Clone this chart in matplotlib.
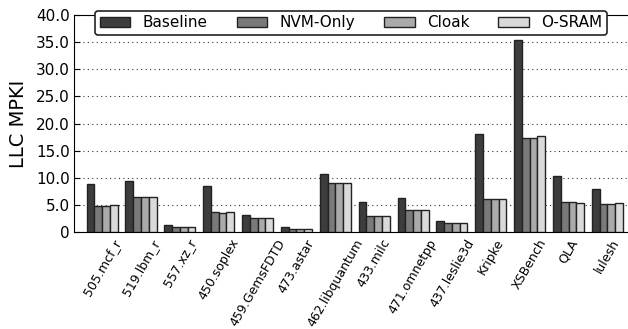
import matplotlib
matplotlib.use("Agg")
import matplotlib.pyplot as plt
import numpy as np

categories = ["505.mcf_r", "519.lbm_r", "557.xz_r", "450.soplex", "459.GemsFDTD",
              "473.astar", "462.libquantum", "433.milc", "471.omnetpp", "437.leslie3d",
              "Kripke", "XSBench", "QLA", "lulesh"]
baseline = [8.9, 9.4, 1.2, 8.4, 3.1, 0.9, 10.7, 5.55, 6.2, 2.1, 18.1, 35.4, 10.4, 8.0]
nvm_only = [4.7, 6.4, 1.0, 3.6, 2.65, 0.6, 9.0, 3.0, 4.1, 1.67, 6.1, 17.3, 5.5, 5.1]
cloak    = [4.7, 6.4, 1.0, 3.5, 2.65, 0.6, 9.0, 3.0, 4.1, 1.67, 6.1, 17.3, 5.5, 5.1]
osram    = [4.9, 6.4, 1.0, 3.6, 2.65, 0.6, 9.0, 3.0, 4.1, 1.67, 6.1, 17.7, 5.3, 5.4]
series_names = ["Baseline", "NVM-Only", "Cloak", "O-SRAM"]
yticks = [0, 5, 10, 15, 20, 25, 30, 35, 40]

colors = ["#3d3d3d", "#7a7a7a", "#aaaaaa", "#dadada"]

fig = plt.figure(figsize=(6.28, 3.29), dpi=100)
ax = fig.add_axes([0.118, 0.295, 0.882, 0.659])

x = np.arange(len(categories))
w = 0.2
for i, (vals, name) in enumerate(zip([baseline, nvm_only, cloak, osram], series_names)):
    ax.bar(x - 0.4 + w * i + w / 2, vals, w, color=colors[i], edgecolor="#222222",
           linewidth=1.0, label=name, zorder=3)

ax.set_xlim(-0.72, 13.53)
ax.set_ylim(0, 40)
ax.set_yticks(yticks)
ax.set_yticklabels(["0"] + ["%.1f" % v for v in yticks[1:]], fontsize=11)
ax.yaxis.grid(True, linestyle=(0, (1, 3)), color="#333333", linewidth=0.8, zorder=0)
ax.tick_params(axis="y", direction="in", length=4, pad=3)
ax.tick_params(axis="x", length=0, pad=3.5)
ax.set_xticks(x)
ax.set_xticklabels(categories, rotation=60, ha="center", fontsize=9)
ax.set_ylabel("LLC MPKI", fontsize=14, labelpad=6)
ax.spines["right"].set_visible(False)

leg = ax.legend(loc="upper center", bbox_to_anchor=(0.5, 1.055), ncol=4, fontsize=11,
                frameon=True, fancybox=True, edgecolor="#222222", framealpha=1,
                handlelength=2.0, columnspacing=1.9, borderpad=0.3)
leg.get_frame().set_linewidth(1.2)
leg.set_zorder(10)

fig.savefig("out.png", dpi=100)
